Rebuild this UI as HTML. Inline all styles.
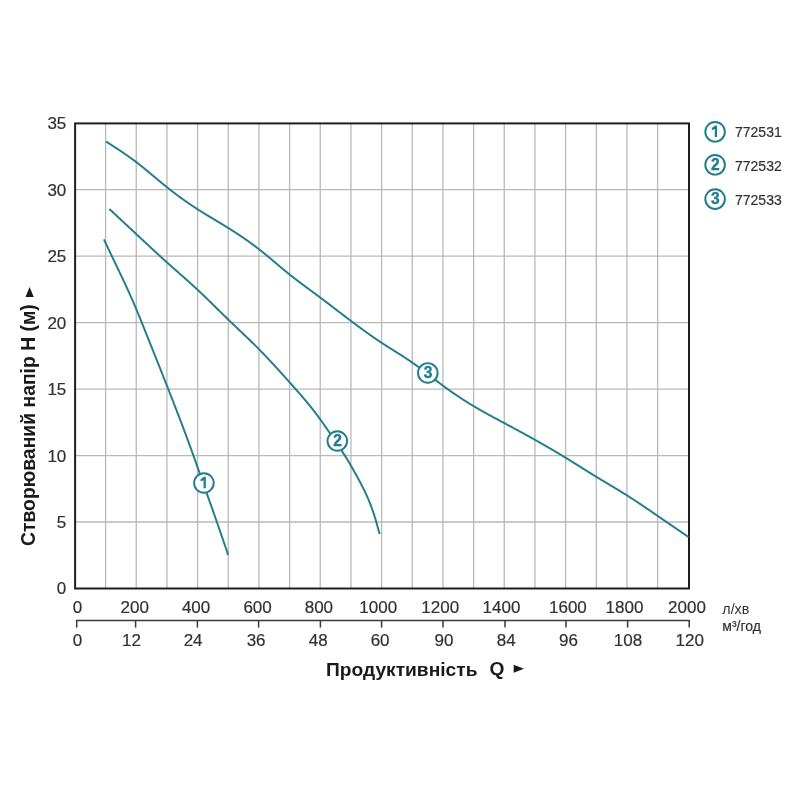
<!DOCTYPE html>
<html><head><meta charset="utf-8"><style>
html,body{margin:0;padding:0;background:#fff;width:800px;height:800px;overflow:hidden}
svg{display:block;filter:blur(0.3px)}
text{white-space:pre}
.t{stroke:#313131;stroke-width:0.2px}
</style></head><body>
<svg width="800" height="800" viewBox="0 0 800 800">
<rect width="800" height="800" fill="#fff"/>
<line x1="105.59" y1="123.5" x2="105.59" y2="588.5" stroke="#b9b9b9" stroke-width="1.3"/>
<line x1="136.26" y1="123.5" x2="136.26" y2="588.5" stroke="#b9b9b9" stroke-width="1.3"/>
<line x1="166.92" y1="123.5" x2="166.92" y2="588.5" stroke="#b9b9b9" stroke-width="1.3"/>
<line x1="197.59" y1="123.5" x2="197.59" y2="588.5" stroke="#b9b9b9" stroke-width="1.3"/>
<line x1="228.26" y1="123.5" x2="228.26" y2="588.5" stroke="#b9b9b9" stroke-width="1.3"/>
<line x1="258.93" y1="123.5" x2="258.93" y2="588.5" stroke="#b9b9b9" stroke-width="1.3"/>
<line x1="289.60" y1="123.5" x2="289.60" y2="588.5" stroke="#b9b9b9" stroke-width="1.3"/>
<line x1="320.26" y1="123.5" x2="320.26" y2="588.5" stroke="#b9b9b9" stroke-width="1.3"/>
<line x1="350.93" y1="123.5" x2="350.93" y2="588.5" stroke="#b9b9b9" stroke-width="1.3"/>
<line x1="381.60" y1="123.5" x2="381.60" y2="588.5" stroke="#b9b9b9" stroke-width="1.3"/>
<line x1="412.27" y1="123.5" x2="412.27" y2="588.5" stroke="#b9b9b9" stroke-width="1.3"/>
<line x1="442.94" y1="123.5" x2="442.94" y2="588.5" stroke="#b9b9b9" stroke-width="1.3"/>
<line x1="473.60" y1="123.5" x2="473.60" y2="588.5" stroke="#b9b9b9" stroke-width="1.3"/>
<line x1="504.27" y1="123.5" x2="504.27" y2="588.5" stroke="#b9b9b9" stroke-width="1.3"/>
<line x1="534.94" y1="123.5" x2="534.94" y2="588.5" stroke="#b9b9b9" stroke-width="1.3"/>
<line x1="565.61" y1="123.5" x2="565.61" y2="588.5" stroke="#b9b9b9" stroke-width="1.3"/>
<line x1="596.28" y1="123.5" x2="596.28" y2="588.5" stroke="#b9b9b9" stroke-width="1.3"/>
<line x1="626.94" y1="123.5" x2="626.94" y2="588.5" stroke="#b9b9b9" stroke-width="1.3"/>
<line x1="657.61" y1="123.5" x2="657.61" y2="588.5" stroke="#b9b9b9" stroke-width="1.3"/>
<line x1="75.2" y1="522.02" x2="689.0" y2="522.02" stroke="#b9b9b9" stroke-width="1.3"/>
<line x1="75.2" y1="455.54" x2="689.0" y2="455.54" stroke="#b9b9b9" stroke-width="1.3"/>
<line x1="75.2" y1="389.07" x2="689.0" y2="389.07" stroke="#b9b9b9" stroke-width="1.3"/>
<line x1="75.2" y1="322.60" x2="689.0" y2="322.60" stroke="#b9b9b9" stroke-width="1.3"/>
<line x1="75.2" y1="256.12" x2="689.0" y2="256.12" stroke="#b9b9b9" stroke-width="1.3"/>
<line x1="75.2" y1="189.65" x2="689.0" y2="189.65" stroke="#b9b9b9" stroke-width="1.3"/>
<rect x="75.1" y="123.4" width="613.90" height="465.10" fill="none" stroke="#1e1e1e" stroke-width="2.0"/>
<path d="M103.90,239.34 L104.40,240.40 L104.90,241.46 L105.40,242.52 L105.90,243.58 L106.40,244.64 L106.90,245.70 L107.40,246.75 L107.90,247.81 L108.40,248.87 L108.90,249.92 L109.40,250.97 L109.90,252.03 L110.40,253.08 L110.90,254.13 L111.40,255.18 L111.90,256.23 L112.40,257.28 L112.90,258.32 L113.40,259.37 L113.90,260.41 L114.40,261.45 L114.90,262.49 L115.40,263.54 L115.90,264.58 L116.40,265.62 L116.90,266.66 L117.40,267.71 L117.90,268.75 L118.40,269.79 L118.90,270.84 L119.40,271.88 L119.90,272.93 L120.40,273.98 L120.90,275.03 L121.40,276.08 L121.90,277.14 L122.40,278.20 L122.90,279.25 L123.40,280.32 L123.90,281.38 L124.40,282.45 L124.90,283.52 L125.40,284.59 L125.90,285.67 L126.40,286.75 L126.90,287.83 L127.40,288.92 L127.90,290.02 L128.40,291.11 L128.90,292.22 L129.40,293.32 L129.90,294.43 L130.40,295.55 L130.90,296.67 L131.40,297.80 L131.90,298.93 L132.40,300.07 L132.90,301.22 L133.40,302.37 L133.90,303.52 L134.40,304.69 L134.90,305.86 L135.40,307.04 L135.90,308.22 L136.40,309.41 L136.90,310.61 L137.40,311.82 L137.90,313.03 L138.40,314.25 L138.90,315.47 L139.40,316.70 L139.90,317.93 L140.40,319.17 L140.90,320.40 L141.40,321.64 L141.90,322.88 L142.40,324.12 L142.90,325.36 L143.40,326.60 L143.90,327.85 L144.40,329.09 L144.90,330.33 L145.40,331.58 L145.90,332.82 L146.40,334.07 L146.90,335.31 L147.40,336.56 L147.90,337.81 L148.40,339.05 L148.90,340.30 L149.40,341.55 L149.90,342.80 L150.40,344.05 L150.90,345.30 L151.40,346.55 L151.90,347.81 L152.40,349.06 L152.90,350.31 L153.40,351.57 L153.90,352.82 L154.40,354.08 L154.90,355.33 L155.40,356.59 L155.90,357.85 L156.40,359.10 L156.90,360.36 L157.40,361.62 L157.90,362.88 L158.40,364.14 L158.90,365.40 L159.40,366.66 L159.90,367.92 L160.40,369.19 L160.90,370.45 L161.40,371.71 L161.90,372.98 L162.40,374.24 L162.90,375.51 L163.40,376.77 L163.90,378.04 L164.40,379.31 L164.90,380.58 L165.40,381.84 L165.90,383.11 L166.40,384.38 L166.90,385.65 L167.40,386.92 L167.90,388.20 L168.40,389.47 L168.90,390.74 L169.40,392.01 L169.90,393.29 L170.40,394.56 L170.90,395.84 L171.40,397.11 L171.90,398.39 L172.40,399.67 L172.90,400.95 L173.40,402.23 L173.90,403.52 L174.40,404.80 L174.90,406.09 L175.40,407.37 L175.90,408.66 L176.40,409.96 L176.90,411.25 L177.40,412.55 L177.90,413.84 L178.40,415.14 L178.90,416.45 L179.40,417.75 L179.90,419.06 L180.40,420.37 L180.90,421.68 L181.40,423.00 L181.90,424.31 L182.40,425.63 L182.90,426.96 L183.40,428.28 L183.90,429.61 L184.40,430.95 L184.90,432.28 L185.40,433.62 L185.90,434.97 L186.40,436.31 L186.90,437.66 L187.40,439.02 L187.90,440.37 L188.40,441.73 L188.90,443.10 L189.40,444.46 L189.90,445.83 L190.40,447.20 L190.90,448.58 L191.40,449.96 L191.90,451.34 L192.40,452.73 L192.90,454.11 L193.40,455.51 L193.90,456.90 L194.40,458.30 L194.90,459.70 L195.40,461.10 L195.90,462.51 L196.40,463.92 L196.90,465.33 L197.40,466.74 L197.90,468.15 L198.40,469.57 L198.90,470.98 L199.40,472.40 L199.90,473.81 L200.40,475.23 L200.90,476.64 L201.40,478.06 L201.90,479.48 L202.40,480.89 L202.90,482.31 L203.40,483.73 L203.90,485.14 L204.40,486.56 L204.90,487.98 L205.40,489.39 L205.90,490.81 L206.40,492.23 L206.90,493.64 L207.40,495.06 L207.90,496.48 L208.40,497.89 L208.90,499.31 L209.40,500.73 L209.90,502.14 L210.40,503.56 L210.90,504.98 L211.40,506.40 L211.90,507.82 L212.40,509.24 L212.90,510.67 L213.40,512.09 L213.90,513.52 L214.40,514.94 L214.90,516.37 L215.40,517.80 L215.90,519.24 L216.40,520.67 L216.90,522.11 L217.40,523.55 L217.90,524.99 L218.40,526.43 L218.90,527.88 L219.40,529.32 L219.90,530.77 L220.40,532.22 L220.90,533.68 L221.40,535.13 L221.90,536.59 L222.40,538.04 L222.90,539.50 L223.40,540.96 L223.90,542.42 L224.40,543.88 L224.90,545.34 L225.40,546.80 L225.90,548.27 L226.40,549.73 L226.90,551.19 L227.40,552.66 L227.90,554.12 L228.15,554.85" fill="none" stroke="#217d8e" stroke-width="1.95" stroke-linejoin="round"/>
<path d="M109.40,209.00 L109.90,209.47 L110.40,209.93 L110.90,210.40 L111.40,210.86 L111.90,211.33 L112.40,211.80 L112.90,212.26 L113.40,212.73 L113.90,213.19 L114.40,213.66 L114.90,214.13 L115.40,214.59 L115.90,215.06 L116.40,215.53 L116.90,215.99 L117.40,216.46 L117.90,216.92 L118.40,217.39 L118.90,217.86 L119.40,218.32 L119.90,218.79 L120.40,219.26 L120.90,219.72 L121.40,220.19 L121.90,220.66 L122.40,221.12 L122.90,221.59 L123.40,222.05 L123.90,222.52 L124.40,222.99 L124.90,223.45 L125.40,223.92 L125.90,224.39 L126.40,224.85 L126.90,225.32 L127.40,225.79 L127.90,226.25 L128.40,226.72 L128.90,227.19 L129.40,227.66 L129.90,228.12 L130.40,228.59 L130.90,229.06 L131.40,229.52 L131.90,229.99 L132.40,230.46 L132.90,230.93 L133.40,231.39 L133.90,231.86 L134.40,232.33 L134.90,232.79 L135.40,233.26 L135.90,233.73 L136.40,234.20 L136.90,234.67 L137.40,235.13 L137.90,235.60 L138.40,236.07 L138.90,236.54 L139.40,237.00 L139.90,237.47 L140.40,237.94 L140.90,238.41 L141.40,238.87 L141.90,239.34 L142.40,239.81 L142.90,240.28 L143.40,240.74 L143.90,241.21 L144.40,241.68 L144.90,242.15 L145.40,242.61 L145.90,243.08 L146.40,243.54 L146.90,244.01 L147.40,244.48 L147.90,244.94 L148.40,245.41 L148.90,245.87 L149.40,246.34 L149.90,246.80 L150.40,247.27 L150.90,247.73 L151.40,248.19 L151.90,248.66 L152.40,249.12 L152.90,249.58 L153.40,250.05 L153.90,250.51 L154.40,250.97 L154.90,251.43 L155.40,251.89 L155.90,252.35 L156.40,252.81 L156.90,253.27 L157.40,253.73 L157.90,254.19 L158.40,254.65 L158.90,255.11 L159.40,255.56 L159.90,256.02 L160.40,256.48 L160.90,256.93 L161.40,257.39 L161.90,257.84 L162.40,258.30 L162.90,258.75 L163.40,259.20 L163.90,259.66 L164.40,260.11 L164.90,260.56 L165.40,261.01 L165.90,261.46 L166.40,261.91 L166.90,262.35 L167.40,262.80 L167.90,263.25 L168.40,263.70 L168.90,264.14 L169.40,264.59 L169.90,265.03 L170.40,265.47 L170.90,265.92 L171.40,266.36 L171.90,266.80 L172.40,267.25 L172.90,267.69 L173.40,268.13 L173.90,268.57 L174.40,269.01 L174.90,269.45 L175.40,269.89 L175.90,270.33 L176.40,270.77 L176.90,271.22 L177.40,271.66 L177.90,272.10 L178.40,272.54 L178.90,272.98 L179.40,273.42 L179.90,273.86 L180.40,274.30 L180.90,274.74 L181.40,275.18 L181.90,275.62 L182.40,276.06 L182.90,276.50 L183.40,276.95 L183.90,277.39 L184.40,277.83 L184.90,278.28 L185.40,278.72 L185.90,279.17 L186.40,279.61 L186.90,280.06 L187.40,280.50 L187.90,280.95 L188.40,281.40 L188.90,281.84 L189.40,282.29 L189.90,282.74 L190.40,283.19 L190.90,283.65 L191.40,284.10 L191.90,284.55 L192.40,285.00 L192.90,285.46 L193.40,285.92 L193.90,286.37 L194.40,286.83 L194.90,287.29 L195.40,287.75 L195.90,288.21 L196.40,288.68 L196.90,289.14 L197.40,289.60 L197.90,290.07 L198.40,290.54 L198.90,291.01 L199.40,291.48 L199.90,291.95 L200.40,292.42 L200.90,292.90 L201.40,293.37 L201.90,293.85 L202.40,294.33 L202.90,294.80 L203.40,295.28 L203.90,295.76 L204.40,296.24 L204.90,296.73 L205.40,297.21 L205.90,297.69 L206.40,298.18 L206.90,298.66 L207.40,299.15 L207.90,299.63 L208.40,300.12 L208.90,300.61 L209.40,301.09 L209.90,301.58 L210.40,302.07 L210.90,302.56 L211.40,303.05 L211.90,303.54 L212.40,304.03 L212.90,304.52 L213.40,305.01 L213.90,305.50 L214.40,306.00 L214.90,306.49 L215.40,306.98 L215.90,307.47 L216.40,307.96 L216.90,308.45 L217.40,308.95 L217.90,309.44 L218.40,309.93 L218.90,310.42 L219.40,310.91 L219.90,311.41 L220.40,311.90 L220.90,312.39 L221.40,312.88 L221.90,313.37 L222.40,313.86 L222.90,314.35 L223.40,314.84 L223.90,315.33 L224.40,315.82 L224.90,316.30 L225.40,316.79 L225.90,317.28 L226.40,317.76 L226.90,318.25 L227.40,318.73 L227.90,319.22 L228.40,319.70 L228.90,320.18 L229.40,320.67 L229.90,321.15 L230.40,321.63 L230.90,322.11 L231.40,322.59 L231.90,323.06 L232.40,323.54 L232.90,324.02 L233.40,324.50 L233.90,324.97 L234.40,325.45 L234.90,325.93 L235.40,326.40 L235.90,326.88 L236.40,327.35 L236.90,327.83 L237.40,328.31 L237.90,328.78 L238.40,329.26 L238.90,329.73 L239.40,330.21 L239.90,330.68 L240.40,331.16 L240.90,331.63 L241.40,332.11 L241.90,332.58 L242.40,333.06 L242.90,333.53 L243.40,334.01 L243.90,334.49 L244.40,334.97 L244.90,335.44 L245.40,335.92 L245.90,336.40 L246.40,336.88 L246.90,337.36 L247.40,337.84 L247.90,338.32 L248.40,338.80 L248.90,339.29 L249.40,339.77 L249.90,340.25 L250.40,340.74 L250.90,341.23 L251.40,341.71 L251.90,342.20 L252.40,342.69 L252.90,343.18 L253.40,343.67 L253.90,344.16 L254.40,344.66 L254.90,345.15 L255.40,345.65 L255.90,346.14 L256.40,346.64 L256.90,347.14 L257.40,347.64 L257.90,348.15 L258.40,348.65 L258.90,349.16 L259.40,349.66 L259.90,350.17 L260.40,350.68 L260.90,351.19 L261.40,351.71 L261.90,352.22 L262.40,352.74 L262.90,353.25 L263.40,353.77 L263.90,354.29 L264.40,354.81 L264.90,355.34 L265.40,355.86 L265.90,356.39 L266.40,356.91 L266.90,357.44 L267.40,357.97 L267.90,358.50 L268.40,359.03 L268.90,359.56 L269.40,360.09 L269.90,360.63 L270.40,361.16 L270.90,361.70 L271.40,362.24 L271.90,362.78 L272.40,363.32 L272.90,363.86 L273.40,364.40 L273.90,364.94 L274.40,365.48 L274.90,366.03 L275.40,366.57 L275.90,367.12 L276.40,367.66 L276.90,368.21 L277.40,368.76 L277.90,369.31 L278.40,369.85 L278.90,370.40 L279.40,370.95 L279.90,371.51 L280.40,372.06 L280.90,372.61 L281.40,373.16 L281.90,373.72 L282.40,374.27 L282.90,374.82 L283.40,375.38 L283.90,375.94 L284.40,376.49 L284.90,377.05 L285.40,377.60 L285.90,378.16 L286.40,378.72 L286.90,379.28 L287.40,379.83 L287.90,380.39 L288.40,380.95 L288.90,381.51 L289.40,382.07 L289.90,382.63 L290.40,383.19 L290.90,383.75 L291.40,384.31 L291.90,384.87 L292.40,385.43 L292.90,385.99 L293.40,386.55 L293.90,387.11 L294.40,387.68 L294.90,388.24 L295.40,388.81 L295.90,389.37 L296.40,389.94 L296.90,390.51 L297.40,391.08 L297.90,391.65 L298.40,392.22 L298.90,392.79 L299.40,393.37 L299.90,393.94 L300.40,394.52 L300.90,395.10 L301.40,395.68 L301.90,396.26 L302.40,396.84 L302.90,397.43 L303.40,398.02 L303.90,398.61 L304.40,399.20 L304.90,399.79 L305.40,400.39 L305.90,400.98 L306.40,401.58 L306.90,402.19 L307.40,402.79 L307.90,403.40 L308.40,404.01 L308.90,404.62 L309.40,405.23 L309.90,405.85 L310.40,406.47 L310.90,407.10 L311.40,407.72 L311.90,408.35 L312.40,408.98 L312.90,409.62 L313.40,410.26 L313.90,410.90 L314.40,411.54 L314.90,412.19 L315.40,412.84 L315.90,413.50 L316.40,414.15 L316.90,414.82 L317.40,415.48 L317.90,416.15 L318.40,416.82 L318.90,417.50 L319.40,418.18 L319.90,418.87 L320.40,419.56 L320.90,420.25 L321.40,420.95 L321.90,421.65 L322.40,422.35 L322.90,423.06 L323.40,423.77 L323.90,424.48 L324.40,425.20 L324.90,425.92 L325.40,426.64 L325.90,427.37 L326.40,428.09 L326.90,428.82 L327.40,429.55 L327.90,430.29 L328.40,431.02 L328.90,431.76 L329.40,432.49 L329.90,433.23 L330.40,433.97 L330.90,434.71 L331.40,435.46 L331.90,436.20 L332.40,436.94 L332.90,437.69 L333.40,438.43 L333.90,439.18 L334.40,439.92 L334.90,440.67 L335.40,441.42 L335.90,442.17 L336.40,442.91 L336.90,443.66 L337.40,444.41 L337.90,445.15 L338.40,445.90 L338.90,446.65 L339.40,447.39 L339.90,448.14 L340.40,448.88 L340.90,449.63 L341.40,450.37 L341.90,451.11 L342.40,451.86 L342.90,452.60 L343.40,453.34 L343.90,454.09 L344.40,454.85 L344.90,455.61 L345.40,456.38 L345.90,457.16 L346.40,457.95 L346.90,458.76 L347.40,459.58 L347.90,460.41 L348.40,461.24 L348.90,462.09 L349.40,462.94 L349.90,463.80 L350.40,464.67 L350.90,465.54 L351.40,466.41 L351.90,467.29 L352.40,468.17 L352.90,469.05 L353.40,469.94 L353.90,470.82 L354.40,471.72 L354.90,472.61 L355.40,473.51 L355.90,474.41 L356.40,475.32 L356.90,476.23 L357.40,477.15 L357.90,478.07 L358.40,478.99 L358.90,479.93 L359.40,480.86 L359.90,481.81 L360.40,482.76 L360.90,483.71 L361.40,484.68 L361.90,485.65 L362.40,486.63 L362.90,487.62 L363.40,488.62 L363.90,489.63 L364.40,490.65 L364.90,491.69 L365.40,492.74 L365.90,493.81 L366.40,494.89 L366.90,496.00 L367.40,497.12 L367.90,498.27 L368.40,499.43 L368.90,500.62 L369.40,501.84 L369.90,503.08 L370.40,504.36 L370.90,505.66 L371.40,506.99 L371.90,508.36 L372.40,509.76 L372.90,511.20 L373.40,512.68 L373.90,514.19 L374.40,515.74 L374.90,517.34 L375.40,518.97 L375.90,520.65 L376.40,522.37 L376.90,524.13 L377.40,525.92 L377.90,527.75 L378.40,529.60 L378.90,531.46 L379.40,533.33 L379.60,534.08" fill="none" stroke="#217d8e" stroke-width="1.95" stroke-linejoin="round"/>
<path d="M105.95,141.47 L106.45,141.79 L106.95,142.11 L107.45,142.43 L107.95,142.75 L108.45,143.07 L108.95,143.39 L109.45,143.71 L109.95,144.03 L110.45,144.35 L110.95,144.68 L111.45,145.00 L111.95,145.32 L112.45,145.64 L112.95,145.97 L113.45,146.29 L113.95,146.61 L114.45,146.94 L114.95,147.26 L115.45,147.59 L115.95,147.91 L116.45,148.24 L116.95,148.57 L117.45,148.90 L117.95,149.23 L118.45,149.56 L118.95,149.89 L119.45,150.22 L119.95,150.55 L120.45,150.89 L120.95,151.22 L121.45,151.56 L121.95,151.89 L122.45,152.23 L122.95,152.57 L123.45,152.91 L123.95,153.25 L124.45,153.59 L124.95,153.94 L125.45,154.28 L125.95,154.63 L126.45,154.98 L126.95,155.32 L127.45,155.68 L127.95,156.03 L128.45,156.38 L128.95,156.74 L129.45,157.09 L129.95,157.45 L130.45,157.81 L130.95,158.17 L131.45,158.53 L131.95,158.90 L132.45,159.26 L132.95,159.63 L133.45,160.00 L133.95,160.37 L134.45,160.75 L134.95,161.12 L135.45,161.50 L135.95,161.88 L136.45,162.26 L136.95,162.64 L137.45,163.03 L137.95,163.42 L138.45,163.81 L138.95,164.20 L139.45,164.59 L139.95,164.99 L140.45,165.38 L140.95,165.78 L141.45,166.18 L141.95,166.58 L142.45,166.98 L142.95,167.38 L143.45,167.79 L143.95,168.19 L144.45,168.60 L144.95,169.01 L145.45,169.42 L145.95,169.83 L146.45,170.24 L146.95,170.65 L147.45,171.07 L147.95,171.48 L148.45,171.89 L148.95,172.31 L149.45,172.72 L149.95,173.14 L150.45,173.56 L150.95,173.97 L151.45,174.39 L151.95,174.81 L152.45,175.23 L152.95,175.65 L153.45,176.06 L153.95,176.48 L154.45,176.90 L154.95,177.32 L155.45,177.74 L155.95,178.16 L156.45,178.57 L156.95,178.99 L157.45,179.41 L157.95,179.83 L158.45,180.24 L158.95,180.66 L159.45,181.08 L159.95,181.49 L160.45,181.91 L160.95,182.32 L161.45,182.73 L161.95,183.15 L162.45,183.56 L162.95,183.97 L163.45,184.38 L163.95,184.79 L164.45,185.19 L164.95,185.60 L165.45,186.01 L165.95,186.41 L166.45,186.81 L166.95,187.21 L167.45,187.61 L167.95,188.01 L168.45,188.41 L168.95,188.80 L169.45,189.20 L169.95,189.59 L170.45,189.98 L170.95,190.37 L171.45,190.76 L171.95,191.15 L172.45,191.53 L172.95,191.92 L173.45,192.30 L173.95,192.68 L174.45,193.06 L174.95,193.44 L175.45,193.82 L175.95,194.19 L176.45,194.57 L176.95,194.94 L177.45,195.31 L177.95,195.68 L178.45,196.05 L178.95,196.42 L179.45,196.79 L179.95,197.15 L180.45,197.51 L180.95,197.88 L181.45,198.24 L181.95,198.60 L182.45,198.96 L182.95,199.31 L183.45,199.67 L183.95,200.03 L184.45,200.38 L184.95,200.73 L185.45,201.08 L185.95,201.43 L186.45,201.78 L186.95,202.13 L187.45,202.47 L187.95,202.82 L188.45,203.16 L188.95,203.50 L189.45,203.85 L189.95,204.19 L190.45,204.52 L190.95,204.86 L191.45,205.20 L191.95,205.53 L192.45,205.87 L192.95,206.20 L193.45,206.53 L193.95,206.86 L194.45,207.19 L194.95,207.52 L195.45,207.84 L195.95,208.17 L196.45,208.49 L196.95,208.82 L197.45,209.14 L197.95,209.46 L198.45,209.78 L198.95,210.10 L199.45,210.42 L199.95,210.73 L200.45,211.05 L200.95,211.36 L201.45,211.68 L201.95,211.99 L202.45,212.30 L202.95,212.61 L203.45,212.92 L203.95,213.23 L204.45,213.54 L204.95,213.85 L205.45,214.15 L205.95,214.46 L206.45,214.77 L206.95,215.07 L207.45,215.38 L207.95,215.68 L208.45,215.99 L208.95,216.29 L209.45,216.59 L209.95,216.89 L210.45,217.20 L210.95,217.50 L211.45,217.80 L211.95,218.10 L212.45,218.40 L212.95,218.70 L213.45,219.00 L213.95,219.31 L214.45,219.61 L214.95,219.91 L215.45,220.21 L215.95,220.51 L216.45,220.81 L216.95,221.11 L217.45,221.41 L217.95,221.71 L218.45,222.01 L218.95,222.31 L219.45,222.61 L219.95,222.91 L220.45,223.21 L220.95,223.52 L221.45,223.82 L221.95,224.12 L222.45,224.43 L222.95,224.73 L223.45,225.03 L223.95,225.34 L224.45,225.64 L224.95,225.95 L225.45,226.25 L225.95,226.56 L226.45,226.87 L226.95,227.18 L227.45,227.49 L227.95,227.80 L228.45,228.11 L228.95,228.42 L229.45,228.73 L229.95,229.04 L230.45,229.36 L230.95,229.67 L231.45,229.99 L231.95,230.30 L232.45,230.62 L232.95,230.94 L233.45,231.26 L233.95,231.58 L234.45,231.90 L234.95,232.22 L235.45,232.55 L235.95,232.87 L236.45,233.20 L236.95,233.52 L237.45,233.85 L237.95,234.18 L238.45,234.51 L238.95,234.84 L239.45,235.17 L239.95,235.51 L240.45,235.84 L240.95,236.18 L241.45,236.51 L241.95,236.85 L242.45,237.19 L242.95,237.53 L243.45,237.88 L243.95,238.22 L244.45,238.56 L244.95,238.91 L245.45,239.26 L245.95,239.61 L246.45,239.96 L246.95,240.31 L247.45,240.66 L247.95,241.02 L248.45,241.37 L248.95,241.73 L249.45,242.09 L249.95,242.45 L250.45,242.81 L250.95,243.18 L251.45,243.54 L251.95,243.91 L252.45,244.28 L252.95,244.65 L253.45,245.02 L253.95,245.39 L254.45,245.77 L254.95,246.14 L255.45,246.52 L255.95,246.90 L256.45,247.28 L256.95,247.67 L257.45,248.05 L257.95,248.44 L258.45,248.83 L258.95,249.22 L259.45,249.61 L259.95,250.00 L260.45,250.40 L260.95,250.80 L261.45,251.20 L261.95,251.60 L262.45,252.00 L262.95,252.40 L263.45,252.80 L263.95,253.21 L264.45,253.62 L264.95,254.03 L265.45,254.44 L265.95,254.85 L266.45,255.26 L266.95,255.67 L267.45,256.08 L267.95,256.50 L268.45,256.91 L268.95,257.33 L269.45,257.74 L269.95,258.16 L270.45,258.58 L270.95,259.00 L271.45,259.42 L271.95,259.83 L272.45,260.25 L272.95,260.67 L273.45,261.09 L273.95,261.51 L274.45,261.93 L274.95,262.36 L275.45,262.78 L275.95,263.20 L276.45,263.62 L276.95,264.04 L277.45,264.46 L277.95,264.88 L278.45,265.30 L278.95,265.72 L279.45,266.14 L279.95,266.56 L280.45,266.98 L280.95,267.39 L281.45,267.81 L281.95,268.23 L282.45,268.64 L282.95,269.06 L283.45,269.47 L283.95,269.89 L284.45,270.30 L284.95,270.71 L285.45,271.12 L285.95,271.54 L286.45,271.94 L286.95,272.35 L287.45,272.76 L287.95,273.16 L288.45,273.57 L288.95,273.97 L289.45,274.37 L289.95,274.77 L290.45,275.17 L290.95,275.57 L291.45,275.96 L291.95,276.36 L292.45,276.75 L292.95,277.14 L293.45,277.53 L293.95,277.92 L294.45,278.31 L294.95,278.70 L295.45,279.08 L295.95,279.47 L296.45,279.85 L296.95,280.23 L297.45,280.62 L297.95,281.00 L298.45,281.38 L298.95,281.76 L299.45,282.13 L299.95,282.51 L300.45,282.89 L300.95,283.26 L301.45,283.64 L301.95,284.01 L302.45,284.39 L302.95,284.76 L303.45,285.13 L303.95,285.51 L304.45,285.88 L304.95,286.25 L305.45,286.62 L305.95,286.99 L306.45,287.36 L306.95,287.73 L307.45,288.10 L307.95,288.47 L308.45,288.84 L308.95,289.21 L309.45,289.57 L309.95,289.94 L310.45,290.31 L310.95,290.68 L311.45,291.05 L311.95,291.42 L312.45,291.78 L312.95,292.15 L313.45,292.52 L313.95,292.89 L314.45,293.26 L314.95,293.63 L315.45,294.00 L315.95,294.37 L316.45,294.74 L316.95,295.11 L317.45,295.48 L317.95,295.85 L318.45,296.22 L318.95,296.59 L319.45,296.96 L319.95,297.34 L320.45,297.71 L320.95,298.08 L321.45,298.46 L321.95,298.83 L322.45,299.21 L322.95,299.59 L323.45,299.96 L323.95,300.34 L324.45,300.72 L324.95,301.10 L325.45,301.47 L325.95,301.85 L326.45,302.23 L326.95,302.61 L327.45,302.99 L327.95,303.37 L328.45,303.75 L328.95,304.14 L329.45,304.52 L329.95,304.90 L330.45,305.28 L330.95,305.66 L331.45,306.04 L331.95,306.43 L332.45,306.81 L332.95,307.19 L333.45,307.58 L333.95,307.96 L334.45,308.34 L334.95,308.73 L335.45,309.11 L335.95,309.49 L336.45,309.88 L336.95,310.26 L337.45,310.64 L337.95,311.03 L338.45,311.41 L338.95,311.80 L339.45,312.18 L339.95,312.56 L340.45,312.95 L340.95,313.33 L341.45,313.71 L341.95,314.10 L342.45,314.48 L342.95,314.86 L343.45,315.24 L343.95,315.63 L344.45,316.01 L344.95,316.39 L345.45,316.77 L345.95,317.15 L346.45,317.53 L346.95,317.91 L347.45,318.30 L347.95,318.68 L348.45,319.05 L348.95,319.43 L349.45,319.81 L349.95,320.19 L350.45,320.57 L350.95,320.95 L351.45,321.32 L351.95,321.70 L352.45,322.08 L352.95,322.45 L353.45,322.83 L353.95,323.20 L354.45,323.57 L354.95,323.95 L355.45,324.32 L355.95,324.69 L356.45,325.06 L356.95,325.44 L357.45,325.81 L357.95,326.18 L358.45,326.55 L358.95,326.91 L359.45,327.28 L359.95,327.65 L360.45,328.02 L360.95,328.38 L361.45,328.75 L361.95,329.11 L362.45,329.47 L362.95,329.84 L363.45,330.20 L363.95,330.56 L364.45,330.92 L364.95,331.28 L365.45,331.64 L365.95,332.00 L366.45,332.36 L366.95,332.71 L367.45,333.07 L367.95,333.43 L368.45,333.78 L368.95,334.13 L369.45,334.49 L369.95,334.84 L370.45,335.19 L370.95,335.54 L371.45,335.89 L371.95,336.23 L372.45,336.58 L372.95,336.93 L373.45,337.27 L373.95,337.62 L374.45,337.96 L374.95,338.30 L375.45,338.64 L375.95,338.98 L376.45,339.32 L376.95,339.66 L377.45,340.00 L377.95,340.34 L378.45,340.67 L378.95,341.00 L379.45,341.34 L379.95,341.67 L380.45,342.00 L380.95,342.33 L381.45,342.66 L381.95,342.98 L382.45,343.31 L382.95,343.64 L383.45,343.96 L383.95,344.28 L384.45,344.61 L384.95,344.93 L385.45,345.25 L385.95,345.57 L386.45,345.89 L386.95,346.20 L387.45,346.52 L387.95,346.84 L388.45,347.16 L388.95,347.47 L389.45,347.79 L389.95,348.10 L390.45,348.42 L390.95,348.73 L391.45,349.05 L391.95,349.36 L392.45,349.68 L392.95,349.99 L393.45,350.31 L393.95,350.62 L394.45,350.93 L394.95,351.25 L395.45,351.56 L395.95,351.88 L396.45,352.19 L396.95,352.51 L397.45,352.82 L397.95,353.14 L398.45,353.46 L398.95,353.77 L399.45,354.09 L399.95,354.41 L400.45,354.73 L400.95,355.05 L401.45,355.37 L401.95,355.69 L402.45,356.01 L402.95,356.33 L403.45,356.66 L403.95,356.98 L404.45,357.31 L404.95,357.64 L405.45,357.96 L405.95,358.29 L406.45,358.62 L406.95,358.96 L407.45,359.29 L407.95,359.62 L408.45,359.96 L408.95,360.30 L409.45,360.64 L409.95,360.98 L410.45,361.32 L410.95,361.66 L411.45,362.01 L411.95,362.36 L412.45,362.71 L412.95,363.06 L413.45,363.41 L413.95,363.76 L414.45,364.12 L414.95,364.48 L415.45,364.84 L415.95,365.20 L416.45,365.56 L416.95,365.93 L417.45,366.29 L417.95,366.66 L418.45,367.03 L418.95,367.40 L419.45,367.77 L419.95,368.14 L420.45,368.52 L420.95,368.89 L421.45,369.27 L421.95,369.64 L422.45,370.02 L422.95,370.40 L423.45,370.78 L423.95,371.16 L424.45,371.54 L424.95,371.92 L425.45,372.30 L425.95,372.69 L426.45,373.07 L426.95,373.45 L427.45,373.84 L427.95,374.22 L428.45,374.61 L428.95,374.99 L429.45,375.38 L429.95,375.76 L430.45,376.15 L430.95,376.53 L431.45,376.92 L431.95,377.30 L432.45,377.69 L432.95,378.07 L433.45,378.46 L433.95,378.84 L434.45,379.23 L434.95,379.61 L435.45,379.99 L435.95,380.38 L436.45,380.76 L436.95,381.14 L437.45,381.52 L437.95,381.90 L438.45,382.28 L438.95,382.66 L439.45,383.04 L439.95,383.42 L440.45,383.79 L440.95,384.17 L441.45,384.54 L441.95,384.92 L442.45,385.29 L442.95,385.66 L443.45,386.03 L443.95,386.40 L444.45,386.77 L444.95,387.13 L445.45,387.50 L445.95,387.86 L446.45,388.22 L446.95,388.59 L447.45,388.95 L447.95,389.31 L448.45,389.66 L448.95,390.02 L449.45,390.37 L449.95,390.73 L450.45,391.08 L450.95,391.43 L451.45,391.78 L451.95,392.13 L452.45,392.48 L452.95,392.83 L453.45,393.17 L453.95,393.52 L454.45,393.86 L454.95,394.20 L455.45,394.54 L455.95,394.88 L456.45,395.22 L456.95,395.56 L457.45,395.89 L457.95,396.23 L458.45,396.56 L458.95,396.89 L459.45,397.22 L459.95,397.55 L460.45,397.88 L460.95,398.21 L461.45,398.54 L461.95,398.86 L462.45,399.19 L462.95,399.51 L463.45,399.83 L463.95,400.15 L464.45,400.47 L464.95,400.79 L465.45,401.11 L465.95,401.42 L466.45,401.74 L466.95,402.05 L467.45,402.36 L467.95,402.68 L468.45,402.99 L468.95,403.30 L469.45,403.60 L469.95,403.91 L470.45,404.22 L470.95,404.52 L471.45,404.82 L471.95,405.13 L472.45,405.43 L472.95,405.73 L473.45,406.03 L473.95,406.32 L474.45,406.62 L474.95,406.92 L475.45,407.21 L475.95,407.50 L476.45,407.80 L476.95,408.09 L477.45,408.38 L477.95,408.67 L478.45,408.96 L478.95,409.24 L479.45,409.53 L479.95,409.82 L480.45,410.10 L480.95,410.39 L481.45,410.67 L481.95,410.95 L482.45,411.23 L482.95,411.52 L483.45,411.80 L483.95,412.08 L484.45,412.35 L484.95,412.63 L485.45,412.91 L485.95,413.19 L486.45,413.46 L486.95,413.74 L487.45,414.01 L487.95,414.29 L488.45,414.56 L488.95,414.84 L489.45,415.11 L489.95,415.38 L490.45,415.65 L490.95,415.93 L491.45,416.20 L491.95,416.47 L492.45,416.74 L492.95,417.01 L493.45,417.28 L493.95,417.55 L494.45,417.82 L494.95,418.09 L495.45,418.35 L495.95,418.62 L496.45,418.89 L496.95,419.16 L497.45,419.43 L497.95,419.69 L498.45,419.96 L498.95,420.23 L499.45,420.50 L499.95,420.76 L500.45,421.03 L500.95,421.30 L501.45,421.57 L501.95,421.83 L502.45,422.10 L502.95,422.37 L503.45,422.63 L503.95,422.90 L504.45,423.17 L504.95,423.44 L505.45,423.71 L505.95,423.97 L506.45,424.24 L506.95,424.51 L507.45,424.78 L507.95,425.05 L508.45,425.31 L508.95,425.58 L509.45,425.85 L509.95,426.12 L510.45,426.39 L510.95,426.66 L511.45,426.93 L511.95,427.20 L512.45,427.47 L512.95,427.74 L513.45,428.01 L513.95,428.28 L514.45,428.55 L514.95,428.82 L515.45,429.09 L515.95,429.36 L516.45,429.64 L516.95,429.91 L517.45,430.18 L517.95,430.45 L518.45,430.72 L518.95,431.00 L519.45,431.27 L519.95,431.54 L520.45,431.81 L520.95,432.09 L521.45,432.36 L521.95,432.63 L522.45,432.91 L522.95,433.18 L523.45,433.46 L523.95,433.73 L524.45,434.00 L524.95,434.28 L525.45,434.55 L525.95,434.83 L526.45,435.11 L526.95,435.38 L527.45,435.66 L527.95,435.93 L528.45,436.21 L528.95,436.49 L529.45,436.76 L529.95,437.04 L530.45,437.32 L530.95,437.60 L531.45,437.88 L531.95,438.15 L532.45,438.43 L532.95,438.71 L533.45,438.99 L533.95,439.27 L534.45,439.55 L534.95,439.83 L535.45,440.11 L535.95,440.39 L536.45,440.67 L536.95,440.95 L537.45,441.23 L537.95,441.51 L538.45,441.80 L538.95,442.08 L539.45,442.36 L539.95,442.64 L540.45,442.93 L540.95,443.21 L541.45,443.50 L541.95,443.78 L542.45,444.06 L542.95,444.35 L543.45,444.63 L543.95,444.92 L544.45,445.21 L544.95,445.49 L545.45,445.78 L545.95,446.07 L546.45,446.35 L546.95,446.64 L547.45,446.93 L547.95,447.22 L548.45,447.51 L548.95,447.80 L549.45,448.09 L549.95,448.38 L550.45,448.67 L550.95,448.96 L551.45,449.25 L551.95,449.54 L552.45,449.83 L552.95,450.13 L553.45,450.42 L553.95,450.71 L554.45,451.01 L554.95,451.30 L555.45,451.60 L555.95,451.89 L556.45,452.19 L556.95,452.49 L557.45,452.78 L557.95,453.08 L558.45,453.38 L558.95,453.68 L559.45,453.98 L559.95,454.27 L560.45,454.57 L560.95,454.88 L561.45,455.18 L561.95,455.48 L562.45,455.78 L562.95,456.08 L563.45,456.38 L563.95,456.69 L564.45,456.99 L564.95,457.30 L565.45,457.60 L565.95,457.91 L566.45,458.21 L566.95,458.52 L567.45,458.83 L567.95,459.14 L568.45,459.44 L568.95,459.75 L569.45,460.06 L569.95,460.37 L570.45,460.68 L570.95,460.99 L571.45,461.30 L571.95,461.61 L572.45,461.92 L572.95,462.24 L573.45,462.55 L573.95,462.86 L574.45,463.17 L574.95,463.49 L575.45,463.80 L575.95,464.11 L576.45,464.42 L576.95,464.74 L577.45,465.05 L577.95,465.37 L578.45,465.68 L578.95,465.99 L579.45,466.31 L579.95,466.62 L580.45,466.93 L580.95,467.25 L581.45,467.56 L581.95,467.88 L582.45,468.19 L582.95,468.50 L583.45,468.82 L583.95,469.13 L584.45,469.45 L584.95,469.76 L585.45,470.07 L585.95,470.39 L586.45,470.70 L586.95,471.01 L587.45,471.32 L587.95,471.64 L588.45,471.95 L588.95,472.26 L589.45,472.57 L589.95,472.88 L590.45,473.19 L590.95,473.50 L591.45,473.81 L591.95,474.12 L592.45,474.43 L592.95,474.74 L593.45,475.05 L593.95,475.36 L594.45,475.66 L594.95,475.97 L595.45,476.28 L595.95,476.58 L596.45,476.89 L596.95,477.19 L597.45,477.50 L597.95,477.80 L598.45,478.10 L598.95,478.41 L599.45,478.71 L599.95,479.01 L600.45,479.31 L600.95,479.61 L601.45,479.91 L601.95,480.22 L602.45,480.52 L602.95,480.81 L603.45,481.11 L603.95,481.41 L604.45,481.71 L604.95,482.01 L605.45,482.31 L605.95,482.61 L606.45,482.91 L606.95,483.21 L607.45,483.51 L607.95,483.80 L608.45,484.10 L608.95,484.40 L609.45,484.70 L609.95,485.00 L610.45,485.30 L610.95,485.60 L611.45,485.89 L611.95,486.19 L612.45,486.49 L612.95,486.79 L613.45,487.09 L613.95,487.39 L614.45,487.69 L614.95,487.99 L615.45,488.29 L615.95,488.60 L616.45,488.90 L616.95,489.20 L617.45,489.50 L617.95,489.80 L618.45,490.11 L618.95,490.41 L619.45,490.72 L619.95,491.02 L620.45,491.33 L620.95,491.63 L621.45,491.94 L621.95,492.25 L622.45,492.56 L622.95,492.87 L623.45,493.17 L623.95,493.49 L624.45,493.80 L624.95,494.11 L625.45,494.42 L625.95,494.73 L626.45,495.05 L626.95,495.36 L627.45,495.68 L627.95,496.00 L628.45,496.32 L628.95,496.64 L629.45,496.96 L629.95,497.28 L630.45,497.60 L630.95,497.92 L631.45,498.24 L631.95,498.57 L632.45,498.89 L632.95,499.22 L633.45,499.54 L633.95,499.87 L634.45,500.20 L634.95,500.53 L635.45,500.86 L635.95,501.19 L636.45,501.52 L636.95,501.85 L637.45,502.18 L637.95,502.51 L638.45,502.84 L638.95,503.18 L639.45,503.51 L639.95,503.84 L640.45,504.18 L640.95,504.51 L641.45,504.85 L641.95,505.19 L642.45,505.52 L642.95,505.86 L643.45,506.20 L643.95,506.54 L644.45,506.87 L644.95,507.21 L645.45,507.55 L645.95,507.89 L646.45,508.23 L646.95,508.57 L647.45,508.91 L647.95,509.25 L648.45,509.59 L648.95,509.93 L649.45,510.28 L649.95,510.62 L650.45,510.96 L650.95,511.30 L651.45,511.64 L651.95,511.99 L652.45,512.33 L652.95,512.67 L653.45,513.01 L653.95,513.36 L654.45,513.70 L654.95,514.04 L655.45,514.39 L655.95,514.73 L656.45,515.07 L656.95,515.41 L657.45,515.76 L657.95,516.10 L658.45,516.44 L658.95,516.79 L659.45,517.13 L659.95,517.47 L660.45,517.81 L660.95,518.16 L661.45,518.50 L661.95,518.84 L662.45,519.19 L662.95,519.53 L663.45,519.87 L663.95,520.21 L664.45,520.56 L664.95,520.90 L665.45,521.24 L665.95,521.58 L666.45,521.92 L666.95,522.27 L667.45,522.61 L667.95,522.95 L668.45,523.29 L668.95,523.64 L669.45,523.98 L669.95,524.32 L670.45,524.66 L670.95,525.00 L671.45,525.35 L671.95,525.69 L672.45,526.03 L672.95,526.37 L673.45,526.71 L673.95,527.06 L674.45,527.40 L674.95,527.74 L675.45,528.08 L675.95,528.42 L676.45,528.77 L676.95,529.11 L677.45,529.45 L677.95,529.79 L678.45,530.13 L678.95,530.48 L679.45,530.82 L679.95,531.16 L680.45,531.50 L680.95,531.84 L681.45,532.18 L681.95,532.53 L682.45,532.87 L682.95,533.21 L683.45,533.55 L683.95,533.89 L684.45,534.23 L684.95,534.58 L685.45,534.92 L685.95,535.26 L686.45,535.60 L686.95,535.94 L687.45,536.28 L687.95,536.63 L688.45,536.97 L688.50,537.00" fill="none" stroke="#217d8e" stroke-width="1.95" stroke-linejoin="round"/>
<circle cx="203.9" cy="483.0" r="9.8" fill="#fff" stroke="#217d8e" stroke-width="1.95"/><polygon points="205.85,476.80 205.85,488.20 203.55,488.20 203.55,480.20 200.60,481.50 200.60,479.30 204.00,476.80" fill="#217d8e"/>
<circle cx="337.3" cy="441.0" r="9.8" fill="#fff" stroke="#217d8e" stroke-width="1.95"/><text x="337.50" y="446.15" text-anchor="middle" font-family="Liberation Sans" font-weight="bold" font-size="15.6" fill="#217d8e" stroke="#217d8e" stroke-width="0.35">2</text>
<circle cx="427.8" cy="372.9" r="9.8" fill="#fff" stroke="#217d8e" stroke-width="1.95"/><text x="428.00" y="378.05" text-anchor="middle" font-family="Liberation Sans" font-weight="bold" font-size="15.6" fill="#217d8e" stroke="#217d8e" stroke-width="0.35">3</text>
<circle cx="715.1" cy="131.8" r="9.8" fill="#fff" stroke="#217d8e" stroke-width="1.95"/><polygon points="717.05,125.60 717.05,137.00 714.75,137.00 714.75,129.00 711.80,130.30 711.80,128.10 715.20,125.60" fill="#217d8e"/>
<text x="735" y="136.80" font-family="Liberation Sans" font-size="14" fill="#313131" class="t">772531</text>
<circle cx="715.1" cy="164.8" r="9.8" fill="#fff" stroke="#217d8e" stroke-width="1.95"/><text x="715.30" y="169.95" text-anchor="middle" font-family="Liberation Sans" font-weight="bold" font-size="15.6" fill="#217d8e" stroke="#217d8e" stroke-width="0.35">2</text>
<text x="735" y="171.10" font-family="Liberation Sans" font-size="14" fill="#313131" class="t">772532</text>
<circle cx="715.1" cy="199.1" r="9.8" fill="#fff" stroke="#217d8e" stroke-width="1.95"/><text x="715.30" y="204.25" text-anchor="middle" font-family="Liberation Sans" font-weight="bold" font-size="15.6" fill="#217d8e" stroke="#217d8e" stroke-width="0.35">3</text>
<text x="735" y="205.00" font-family="Liberation Sans" font-size="14" fill="#313131" class="t">772533</text>
<text x="66.3" y="594.40" text-anchor="end" font-family="Liberation Sans" font-size="17" fill="#313131" class="t">0</text>
<text x="66.3" y="527.97" text-anchor="end" font-family="Liberation Sans" font-size="17" fill="#313131" class="t">5</text>
<text x="66.3" y="461.54" text-anchor="end" font-family="Liberation Sans" font-size="17" fill="#313131" class="t">10</text>
<text x="66.3" y="395.11" text-anchor="end" font-family="Liberation Sans" font-size="17" fill="#313131" class="t">15</text>
<text x="66.3" y="328.69" text-anchor="end" font-family="Liberation Sans" font-size="17" fill="#313131" class="t">20</text>
<text x="66.3" y="262.26" text-anchor="end" font-family="Liberation Sans" font-size="17" fill="#313131" class="t">25</text>
<text x="66.3" y="195.83" text-anchor="end" font-family="Liberation Sans" font-size="17" fill="#313131" class="t">30</text>
<text x="66.3" y="129.40" text-anchor="end" font-family="Liberation Sans" font-size="17" fill="#313131" class="t">35</text>
<text x="77.40" y="612.9" text-anchor="middle" font-family="Liberation Sans" font-size="17" fill="#313131" class="t">0</text>
<text x="134.75" y="612.9" text-anchor="middle" font-family="Liberation Sans" font-size="17" fill="#313131" class="t">200</text>
<text x="196.10" y="612.9" text-anchor="middle" font-family="Liberation Sans" font-size="17" fill="#313131" class="t">400</text>
<text x="257.60" y="612.9" text-anchor="middle" font-family="Liberation Sans" font-size="17" fill="#313131" class="t">600</text>
<text x="318.90" y="612.9" text-anchor="middle" font-family="Liberation Sans" font-size="17" fill="#313131" class="t">800</text>
<text x="378.25" y="612.9" text-anchor="middle" font-family="Liberation Sans" font-size="17" fill="#313131" class="t">1000</text>
<text x="440.25" y="612.9" text-anchor="middle" font-family="Liberation Sans" font-size="17" fill="#313131" class="t">1200</text>
<text x="501.50" y="612.9" text-anchor="middle" font-family="Liberation Sans" font-size="17" fill="#313131" class="t">1400</text>
<text x="567.90" y="612.9" text-anchor="middle" font-family="Liberation Sans" font-size="17" fill="#313131" class="t">1600</text>
<text x="624.50" y="612.9" text-anchor="middle" font-family="Liberation Sans" font-size="17" fill="#313131" class="t">1800</text>
<text x="687.00" y="612.9" text-anchor="middle" font-family="Liberation Sans" font-size="17" fill="#313131" class="t">2000</text>
<text x="77.40" y="645.8" text-anchor="middle" font-family="Liberation Sans" font-size="17" fill="#313131" class="t">0</text>
<text x="131.40" y="645.8" text-anchor="middle" font-family="Liberation Sans" font-size="17" fill="#313131" class="t">12</text>
<text x="193.10" y="645.8" text-anchor="middle" font-family="Liberation Sans" font-size="17" fill="#313131" class="t">24</text>
<text x="256.10" y="645.8" text-anchor="middle" font-family="Liberation Sans" font-size="17" fill="#313131" class="t">36</text>
<text x="318.25" y="645.8" text-anchor="middle" font-family="Liberation Sans" font-size="17" fill="#313131" class="t">48</text>
<text x="380.10" y="645.8" text-anchor="middle" font-family="Liberation Sans" font-size="17" fill="#313131" class="t">60</text>
<text x="443.90" y="645.8" text-anchor="middle" font-family="Liberation Sans" font-size="17" fill="#313131" class="t">90</text>
<text x="506.20" y="645.8" text-anchor="middle" font-family="Liberation Sans" font-size="17" fill="#313131" class="t">84</text>
<text x="568.40" y="645.8" text-anchor="middle" font-family="Liberation Sans" font-size="17" fill="#313131" class="t">96</text>
<text x="628.00" y="645.8" text-anchor="middle" font-family="Liberation Sans" font-size="17" fill="#313131" class="t">108</text>
<text x="689.75" y="645.8" text-anchor="middle" font-family="Liberation Sans" font-size="17" fill="#313131" class="t">120</text>
<line x1="75.95" y1="620.5" x2="689.95" y2="620.5" stroke="#3a3a3a" stroke-width="1.5"/>
<line x1="76.70" y1="620" x2="76.70" y2="627.6" stroke="#3a3a3a" stroke-width="1.5"/>
<line x1="135.60" y1="620" x2="135.60" y2="627.6" stroke="#3a3a3a" stroke-width="1.5"/>
<line x1="197.40" y1="620" x2="197.40" y2="627.6" stroke="#3a3a3a" stroke-width="1.5"/>
<line x1="258.60" y1="620" x2="258.60" y2="627.6" stroke="#3a3a3a" stroke-width="1.5"/>
<line x1="320.40" y1="620" x2="320.40" y2="627.6" stroke="#3a3a3a" stroke-width="1.5"/>
<line x1="381.60" y1="620" x2="381.60" y2="627.6" stroke="#3a3a3a" stroke-width="1.5"/>
<line x1="443.00" y1="620" x2="443.00" y2="627.6" stroke="#3a3a3a" stroke-width="1.5"/>
<line x1="505.00" y1="620" x2="505.00" y2="627.6" stroke="#3a3a3a" stroke-width="1.5"/>
<line x1="566.00" y1="620" x2="566.00" y2="627.6" stroke="#3a3a3a" stroke-width="1.5"/>
<line x1="627.60" y1="620" x2="627.60" y2="627.6" stroke="#3a3a3a" stroke-width="1.5"/>
<line x1="689.20" y1="620" x2="689.20" y2="627.6" stroke="#3a3a3a" stroke-width="1.5"/>
<text x="722.3" y="614" font-family="Liberation Sans" font-size="14.3" fill="#313131">л/хв</text>
<text x="722.3" y="630.5" font-family="Liberation Sans" font-size="14" fill="#313131" class="t">м³/год</text>
<text x="326" y="676" font-family="Liberation Sans" font-weight="bold" font-size="19.2" fill="#1a1a1a">Продуктивність</text>
<text x="489.6" y="675.4" font-family="Liberation Sans" font-weight="bold" font-size="19.2" fill="#1a1a1a">Q</text>
<polygon points="513.7,664.7 524,668.75 513.7,672.8" fill="#1a1a1a"/>
<text transform="translate(35,546) rotate(-90)" x="0" y="0" font-family="Liberation Sans" font-weight="bold" font-size="19.35" fill="#1a1a1a">Створюваний напір H (м)</text>
<polygon points="25.5,297.1 29.6,287 33.75,297.1" fill="#1a1a1a"/>
</svg>
</body></html>
